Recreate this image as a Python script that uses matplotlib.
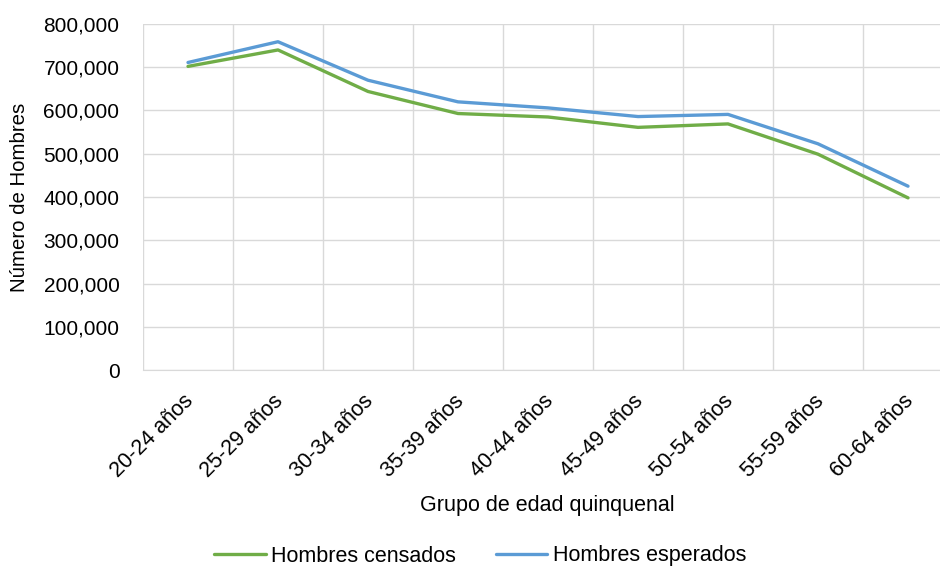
import matplotlib.pyplot as plt
import matplotlib.ticker as ticker
import matplotlib.transforms as mtransforms

plt.rcParams["font.family"] = ["Liberation Sans", "DejaVu Sans"]

grupos = ["20-24 años", "25-29 años", "30-34 años", "35-39 años", "40-44 años",
          "45-49 años", "50-54 años", "55-59 años", "60-64 años"]
censados = [702000, 740000, 644000, 593000, 585000, 561000, 569000, 499000, 398000]
esperados = [711000, 759000, 670000, 620000, 606000, 586000, 591000, 523000, 425000]

fs = 15.5

fig = plt.figure(figsize=(9.4, 5.68), dpi=100)
ax = fig.add_axes([143/940, 1-370/568, 810/940, 346/568])

x = list(range(len(grupos)))
ax.plot(x, censados, color="#70AD47", lw=2.4, label="Hombres censados", solid_capstyle="round")
ax.plot(x, esperados, color="#5B9BD5", lw=2.4, label="Hombres esperados", solid_capstyle="round")

ax.set_xlim(-0.5, len(grupos) - 0.5)
ax.set_ylim(0, 800000)
ax.yaxis.set_major_locator(ticker.MultipleLocator(100000))
ax.yaxis.set_major_formatter(ticker.FuncFormatter(lambda v, p: f"{int(v):,}"))

ax.set_xticks([i - 0.5 for i in range(len(grupos) + 1)], minor=False)
ax.set_xticklabels([])
ax.set_xticks(x, minor=True)
ax.set_xticklabels(grupos, minor=True, rotation=45, ha="right", rotation_mode="anchor", fontsize=fs)
ax.tick_params(axis="x", which="both", length=0)
ax.tick_params(axis="x", which="minor", pad=7)
ax.tick_params(axis="y", length=0, labelsize=15, pad=17)

# shift rotated labels a bit down/left like the original
offset = mtransforms.ScaledTranslation(-0.05, -0.11, fig.dpi_scale_trans)
for lab in ax.get_xticklabels(minor=True):
    lab.set_transform(lab.get_transform() + offset)

ax.grid(True, which="major", color="#D9D9D9", lw=1)
ax.set_axisbelow(True)
for s in ["top", "right", "left"]:
    ax.spines[s].set_visible(False)
ax.spines["bottom"].set_color("#D9D9D9")

ax.set_ylabel("Número de Hombres", fontsize=14.7)
ax.yaxis.set_label_coords(-0.1407, 0.5)
fig.text(547/940, 1-506/568, "Grupo de edad quinquenal", fontsize=fs, ha="center", va="center")

fig.legend(loc="center", bbox_to_anchor=(480/940, 1-556/568), ncol=2, frameon=False,
           fontsize=fs, handlelength=2.4, handletextpad=0.25, columnspacing=1.85)

fig.savefig("out.png", dpi=100)
